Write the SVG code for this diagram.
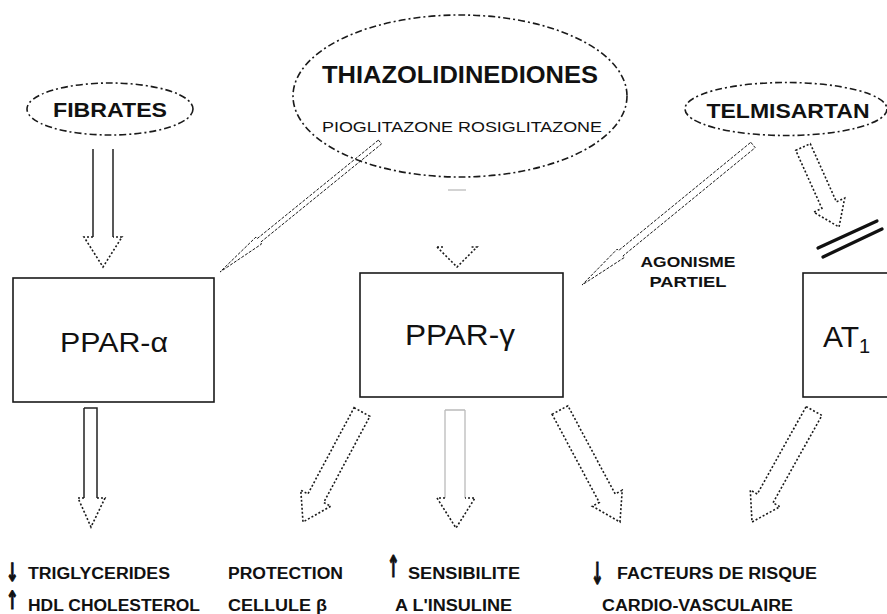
<svg xmlns="http://www.w3.org/2000/svg" width="887" height="614" viewBox="0 0 887 614">
<style>
.bg{fill:#fff}
.ell{fill:none;stroke:#1a1a1a;stroke-width:1.6;stroke-dasharray:7 3 2 3}
.box{fill:none;stroke:#1a1a1a;stroke-width:1.6}
.sol{fill:none;stroke:#222;stroke-width:1.5}
.faint{fill:none;stroke:#bbb;stroke-width:1.3}
.dot{fill:none;stroke:#1a1a1a;stroke-width:1.6;stroke-dasharray:2 2}
.thin{fill:none;stroke:#1a1a1a;stroke-width:1;stroke-dasharray:3 1.5}
.bar{stroke:#111;stroke-width:3.2;stroke-linecap:round}
.t{font-family:"Liberation Sans",Arial,sans-serif;fill:#111}
.b{font-weight:bold}
.lbl{font-family:"Liberation Sans",Arial,sans-serif;font-weight:bold;font-size:16px;fill:#111}
.arr{font-family:"DejaVu Sans","Liberation Sans",sans-serif;font-weight:bold;font-size:30px;fill:#111;stroke:#111;stroke-width:1.2}
.arr2{font-family:"DejaVu Sans","Liberation Sans",sans-serif;font-weight:bold;font-size:25px;fill:#111;stroke:#111;stroke-width:1.2}
</style>
<rect class="bg" x="0" y="0" width="887" height="614"/>

<g id="fibrates">
<ellipse class="ell" cx="110" cy="109" rx="83" ry="26"/>
<text class="t b" x="110" y="117" font-size="20" text-anchor="middle" textLength="114" lengthAdjust="spacingAndGlyphs">FIBRATES</text>
</g>

<g id="thiazolidinediones">
<ellipse class="ell" cx="460" cy="96" rx="167" ry="81"/>
<text class="t b" x="322" y="83" font-size="24" textLength="276" lengthAdjust="spacingAndGlyphs">THIAZOLIDINEDIONES</text>
<text class="t" x="322" y="132" font-size="15" fill="#333" textLength="280" lengthAdjust="spacingAndGlyphs">PIOGLITAZONE ROSIGLITAZONE</text>
</g>

<g id="telmisartan">
<ellipse class="ell" cx="786" cy="109" rx="101" ry="26.5"/>
<text class="t b" x="788" y="118" font-size="20" text-anchor="middle" textLength="163" lengthAdjust="spacingAndGlyphs">TELMISARTAN</text>
</g>

<g id="ppar-alpha">
<rect class="box" x="13" y="278" width="201" height="124"/>
<text class="t" x="60" y="352" font-size="28" textLength="108" lengthAdjust="spacingAndGlyphs">PPAR-α</text>
</g>

<g id="ppar-gamma">
<rect class="box" x="360" y="273" width="203" height="124"/>
<text class="t" x="405" y="345" font-size="29" textLength="110" lengthAdjust="spacingAndGlyphs">PPAR-γ</text>
</g>

<g id="at1">
<rect class="box" x="803" y="273" width="100" height="124"/>
<text class="t" x="823" y="347" font-size="30">AT<tspan font-size="20" dy="6">1</tspan></text>
</g>

<g id="agonisme">
<text class="t b" x="688" y="267" font-size="15" text-anchor="middle" textLength="95" lengthAdjust="spacingAndGlyphs">AGONISME</text>
<text class="t b" x="688" y="287" font-size="15" text-anchor="middle" textLength="77" lengthAdjust="spacingAndGlyphs">PARTIEL</text>
</g>

<g id="connectors">
<!-- fibrates -> PPAR-alpha -->
<path class="sol" d="M93,149 V237 M113,149 V237"/>
<path class="dot" d="M93,237 H84 L103,267 L122,237 H113"/>
<!-- TZD -> PPAR-alpha (thin) -->
<polygon class="thin" points="378.4,140.1 381.6,143.9 260.4,242.4 261.6,244 220,272 256,237 257.2,238.6"/>
<!-- TZD -> PPAR-gamma -->
<path class="faint" d="M448,190 H466"/>
<path class="dot" d="M437,247 H443 M437,247 L457,267 L477,247 H471"/>
<!-- Telmisartan -> PPAR-gamma (thin) -->
<polygon class="thin" points="750.8,142.3 755.2,147.7 622.9,256 624.2,257.6 582,285 617.2,249.1 618.5,250.6"/>
<!-- Telmisartan -> AT1 (blocked) -->
<polygon class="dot" points="795.7,150.3 810.3,143.7 836.4,201.8 844.7,198.1 839,227 813.7,212.1 821.9,208.4"/>
<line class="bar" x1="818" y1="248" x2="877" y2="221"/>
<line class="bar" x1="823" y1="257" x2="882" y2="229"/>
<!-- PPAR-alpha down -->
<path class="sol" d="M84,408 H97 V498 M84,408 V498"/>
<path class="dot" d="M84,498 H78 L91,527 L105,498 H97"/>
<!-- PPAR-gamma down-left -->
<polygon class="dot" points="354.1,407.7 369.9,416.3 323.7,502.5 330.8,506.2 303,522 300.8,490.2 307.9,493.9"/>
<!-- PPAR-gamma down -->
<path class="faint" d="M445,410 H465 M445,410 V498 M465,410 V498"/>
<path class="dot" d="M445,498 H437 L456,528 L475,498 H465"/>
<!-- PPAR-gamma down-right -->
<polygon class="dot" points="552.1,414.3 567.9,405.8 615.2,494 622.2,490.2 620,522 592.3,506.2 599.3,502.5"/>
<!-- AT1 down-left -->
<polygon class="dot" points="806.1,406.6 821.9,415.4 773,502.8 780,506.7 752,522 750.3,490.1 757.3,494"/>
</g>

<g id="effects">
<text class="arr2" transform="translate(6,581) scale(0.6,1)">↓</text>
<text class="lbl" x="28" y="579" textLength="142" lengthAdjust="spacingAndGlyphs">TRIGLYCERIDES</text>
<text class="arr2" transform="translate(6,609) scale(0.6,1)">↑</text>
<text class="lbl" x="28" y="611" textLength="172" lengthAdjust="spacingAndGlyphs">HDL CHOLESTEROL</text>

<text class="lbl" x="228" y="579" textLength="115" lengthAdjust="spacingAndGlyphs">PROTECTION</text>
<text class="lbl" x="228" y="611" textLength="99" lengthAdjust="spacingAndGlyphs">CELLULE β</text>

<text class="arr" transform="translate(387,577) scale(0.5,1)">↑</text>
<text class="lbl" x="408" y="579" textLength="112" lengthAdjust="spacingAndGlyphs">SENSIBILITE</text>
<text class="lbl" x="395" y="611" textLength="117" lengthAdjust="spacingAndGlyphs">A L'INSULINE</text>

<text class="arr" transform="translate(591,584) scale(0.5,1)">↓</text>
<text class="lbl" x="617" y="579" textLength="200" lengthAdjust="spacingAndGlyphs">FACTEURS DE RISQUE</text>
<text class="lbl" x="602" y="611" textLength="191" lengthAdjust="spacingAndGlyphs">CARDIO-VASCULAIRE</text>
</g>
</svg>
